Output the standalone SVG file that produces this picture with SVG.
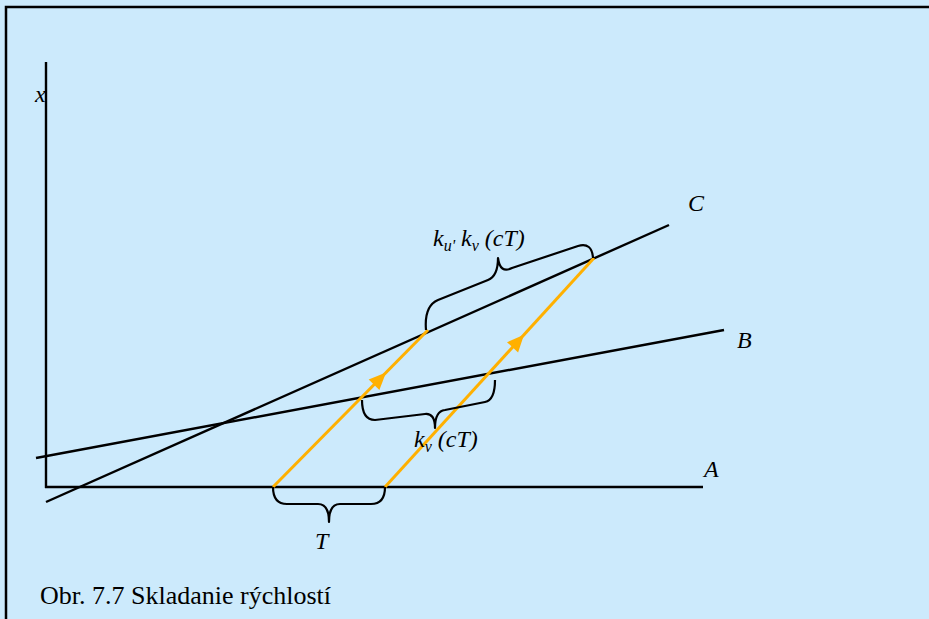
<svg xmlns="http://www.w3.org/2000/svg" width="929" height="619" viewBox="0 0 929 619">
<style>
.ln{stroke:#000;stroke-width:2.4;fill:none}
.br{stroke:#000;stroke-width:2.2;fill:none;stroke-linejoin:round}
.or{stroke:#FFB000;stroke-width:3;fill:none}
.ah{fill:#FFB000}
.lb{font-family:"Liberation Serif",serif;font-style:italic;font-size:24px;fill:#000}
.sub{font-size:16px}
.cap{font-family:"Liberation Serif",serif;font-size:26px;fill:#000}
</style>
<rect x="0" y="0" width="929" height="619" fill="#CCEAFC"/>
<path d="M6,619 L6,7 L929,7" stroke="#000" stroke-width="2.5" fill="none"/>
<g id="axes">
<line class="ln" x1="46" y1="62" x2="46" y2="488"/>
<line class="ln" x1="45" y1="487" x2="703" y2="487"/>
</g>
<g id="lineB"><line class="ln" x1="36" y1="458" x2="724" y2="330"/></g>
<g id="lineC"><line class="ln" x1="46" y1="502" x2="669" y2="225"/></g>
<g id="connectors">
<line class="or" x1="273" y1="487" x2="428" y2="330"/>
<line class="or" x1="385" y1="487" x2="594" y2="258"/>
<polygon class="ah" points="386,372.6 379.4,390 368.7,379.4"/>
<polygon class="ah" points="524,334.7 518.1,352.4 507,342.2"/>
</g>
<g id="braces">
<path class="br" d="M273,487 Q273,504 287,504 L318,504 Q329,504 329,522 Q329,504 340,504 L371,504 Q385,504 385,487"/>
<path class="br" d="M362,400 Q362,420 375,420 L425,414 Q435,413 435,428 Q435,411 445,410 L485,402 Q495,400 495,380"/>
<path class="br" d="M426,330 Q424,306 438,300 L488,280 Q498,276 498,258 Q500,274 512,268 L578,246 Q592,242 593,258"/>
</g>
<g id="labels">
<text class="lb" x="35" y="102">x</text>
<text class="lb" x="688" y="211">C</text>
<text class="lb" x="737" y="348">B</text>
<text class="lb" x="704" y="477">A</text>
<text class="lb" x="315" y="549">T</text>
<text class="lb" x="433" y="246">k<tspan class="sub" dy="5">u'</tspan><tspan dy="-5"> k</tspan><tspan class="sub" dy="5">v</tspan><tspan dy="-5"> (cT)</tspan></text>
<text class="lb" x="414" y="447">k<tspan class="sub" dy="5">v</tspan><tspan dy="-5"> (cT)</tspan></text>
</g>
<text class="cap" x="40" y="604">Obr. 7.7 Skladanie rýchlostí</text>
</svg>
